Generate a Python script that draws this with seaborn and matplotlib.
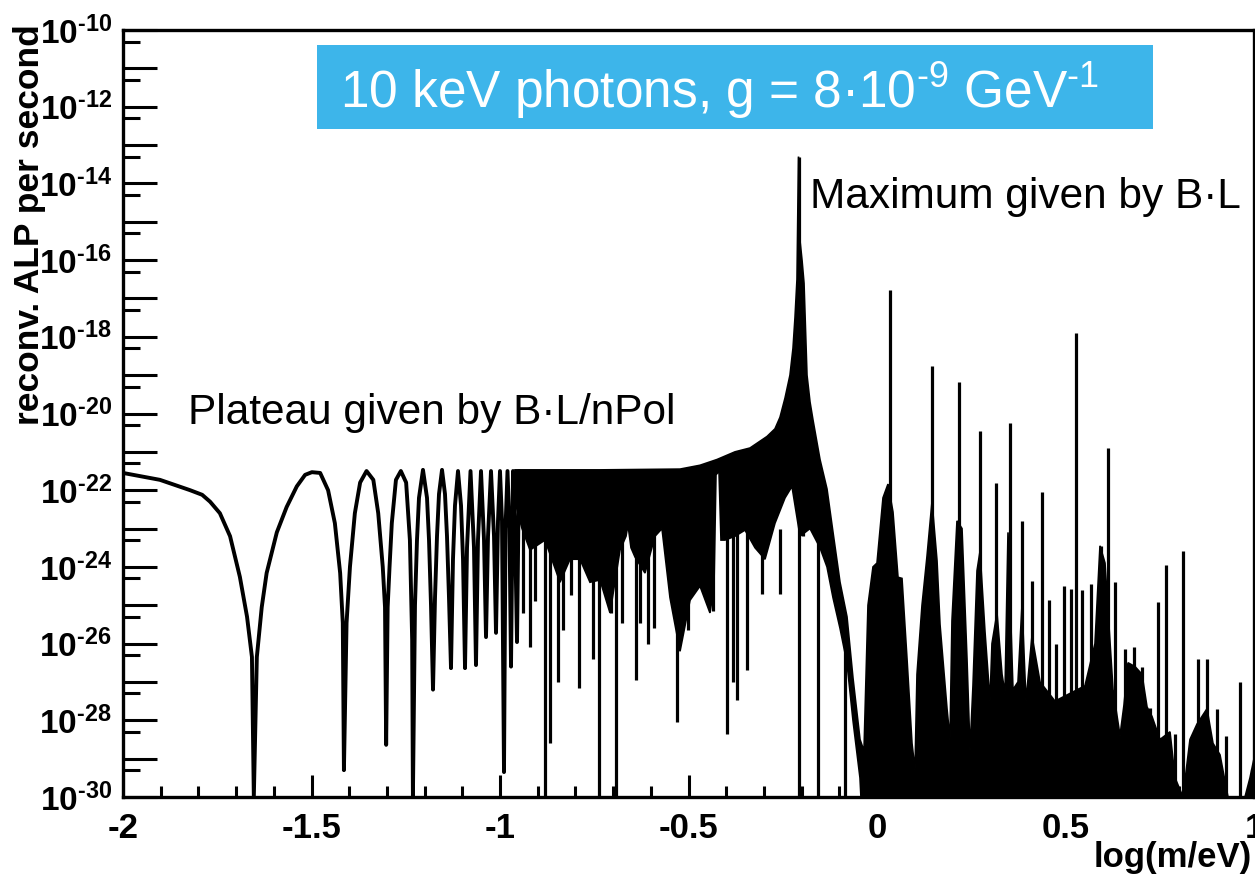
import numpy as np
import matplotlib
matplotlib.use("Agg")
import matplotlib.pyplot as plt
import matplotlib.ticker as mticker
from matplotlib.patches import Rectangle
import pandas as pd
import seaborn as sns

# values are log10(reconv. ALP per second)

# clean oscillation lobes at low mass
lobe_x = [-2.000, -1.902, -1.822, -1.790, -1.769, -1.743, -1.716, -1.690, -1.671, -1.658, -1.653,
          -1.645, -1.632, -1.619, -1.592, -1.566, -1.539, -1.517, -1.499, -1.477, -1.456,
          -1.438, -1.424, -1.417, -1.414, -1.407, -1.398, -1.385, -1.371, -1.354, -1.336,
          -1.323, -1.311, -1.305, -1.302, -1.298, -1.293, -1.287, -1.276, -1.263, -1.249,
          -1.239, -1.233, -1.231,
          -1.2255, -1.2202, -1.2149, -1.2043, -1.1936, -1.1883, -1.1830, -1.1777,
          -1.1724, -1.1671, -1.1618, -1.1538, -1.1459, -1.1406, -1.1353, -1.1300,
          -1.1247, -1.1194, -1.1114, -1.1034, -1.0981, -1.0928,
          -1.0875, -1.0782, -1.0690, -1.0637,
          -1.0584, -1.0504, -1.0424, -1.0371,
          -1.0318, -1.0239, -1.0159, -1.0106,
          -1.0053, -1.0000, -0.9947, -0.9894,
          -0.9854, -0.9801, -0.9748, -0.9708,
          -0.9655, -0.9602, -0.9549, -0.9496]
lobe_exp = [-21.55, -21.73, -22.0, -22.12, -22.3, -22.6, -23.2, -24.26, -25.3, -26.35, -30.0,
            -26.35, -25.05, -24.16, -23.1, -22.44, -21.9, -21.6, -21.53, -21.55, -22.0,
            -22.86, -24.16, -25.46, -29.3, -25.46, -24.0, -22.6, -21.8, -21.5, -21.73,
            -22.6, -24.0, -25.05, -28.64, -25.05, -24.0, -22.86, -21.73, -21.5, -21.8,
            -23.3, -25.9, -30.0,
            -25.0, -23.3, -22.2, -21.47, -22.2, -23.3, -25.0, -27.2,
            -24.8, -23.2, -22.1, -21.47, -22.1, -23.2, -24.8, -26.64,
            -23.8, -22.4, -21.5, -22.4, -23.8, -26.64,
            -23.5, -21.5, -23.5, -26.56,
            -23.3, -21.5, -23.3, -25.83,
            -23.2, -21.5, -23.2, -25.72,
            -22.8, -21.5, -22.8, -29.35,
            -23.0, -21.5, -23.0, -26.6,
            -21.5, -23.0, -25.96, -21.5]

# upper edge of the dense black band (plateau, main peak, side lobes)
band_top_x = [-0.9602, -0.7347, -0.5225, -0.4695, -0.4244, -0.3767, -0.3369, -0.2918,
              -0.2706, -0.2573, -0.2440, -0.2308, -0.2228, -0.2175, -0.2122, -0.2082,
              -0.2042, -0.1989, -0.1936, -0.1857, -0.1777, -0.1698, -0.1512, -0.1326,
              -0.1167, -0.0981, -0.0796, -0.0637, -0.0451,
              -0.0345, -0.0239, -0.0106, 0.0000, 0.0159, 0.0292, 0.0424, 0.0557, 0.0663,
              0.0796, 0.0928, 0.1008, 0.1061, 0.1194, 0.1326, 0.1459, 0.1592, 0.1671,
              0.1857, 0.1936, 0.1989, 0.2122, 0.2255, 0.2387, 0.2467, 0.2546, 0.2653,
              0.2732, 0.2865, 0.2997, 0.3050, 0.3183, 0.3316, 0.3395, 0.3475, 0.3607,
              0.3740, 0.3846, 0.3952, 0.4111, 0.4324, 0.4721, 0.5119, 0.5517, 0.5782,
              0.5915, 0.6048, 0.6260, 0.6446, 0.6552, 0.6658, 0.6844, 0.7029, 0.7162,
              0.7294, 0.7507, 0.7772, 0.7905, 0.8117, 0.8302, 0.8488, 0.8753, 0.8912,
              0.9098, 0.9310, 0.9761, 0.9894, 1.0000]
band_top_exp = [-21.47, -21.47, -21.45, -21.35, -21.2, -21.0, -20.9, -20.6,
                -20.4, -20.1, -19.6, -19.0, -18.3, -17.5, -16.5, -13.3,
                -15.5, -16.0, -16.6, -19.0, -19.7, -20.17, -21.2, -21.97,
                -23.1, -24.4, -25.3, -26.9, -28.5,
                -28.8, -25.0, -24.0, -23.9, -22.2, -21.84, -22.57, -24.27, -24.3,
                -26.4, -28.6, -29.3, -26.8, -25.0, -23.73, -22.3, -23.84, -25.5,
                -27.7, -28.5, -25.4, -22.8, -23.0, -26.4, -28.8, -27.1, -24.1,
                -23.6, -25.7, -27.5, -26.0, -25.2, -26.8, -27.3, -23.1, -27.2,
                -27.0, -25.0, -27.5, -25.8, -27.0, -27.5, -27.3, -27.1, -26.0,
                -23.45, -23.9, -27.2, -28.4, -27.6, -26.5, -26.6, -26.8, -27.65,
                -27.9, -28.5, -28.3, -29.5, -30.0, -28.5, -28.1, -27.7, -28.6,
                -28.9, -30.0, -30.0, -29.5, -29.0]

# lower edge of the dense band
band_bot_x = [-0.9602, -0.9416, -0.9204, -0.8806, -0.8408, -0.8143, -0.7878, -0.7613,
              -0.7347, -0.7082, -0.6817, -0.6658, -0.6605, -0.6525, -0.6419, -0.6154,
              -0.5889, -0.5703, -0.5491, -0.5225, -0.4960, -0.4695, -0.4430, -0.4324,
              -0.4271, -0.4191, -0.4138, -0.4032, -0.3767, -0.3501, -0.3236, -0.2971,
              -0.2706, -0.2440, -0.2255, -0.2042, -0.1777, -0.1512, -0.1326, -0.1167,
              -0.0981, -0.0796, -0.0637, -0.0451, -0.0400, 1.0000]
band_bot_exp = [-22.3, -23.0, -23.56, -23.3, -24.4, -23.8, -23.8, -24.4,
                -24.34, -25.2, -23.56, -23.2, -22.9, -23.5, -23.74, -24.16,
                -23.2, -23.0, -24.8, -26.2, -24.87, -24.5, -25.2, -24.5,
                -21.6, -21.5, -23.3, -23.3, -23.2, -23.04, -23.5, -23.8,
                -22.86, -22.2, -21.9, -23.2, -23.0, -23.5, -24.0, -24.8,
                -25.6, -26.5, -28.0, -29.5, -30.5, -30.5]

# deep minima reaching down out of the band
dip_x = [-0.9390, -0.9204, -0.9072, -0.8806, -0.8674, -0.8462, -0.8329, -0.8117,
         -0.7905, -0.7533, -0.7374, -0.7056, -0.6923, -0.6764, -0.6393, -0.6286,
         -0.6074, -0.5915, -0.5305, -0.5013, -0.4350, -0.3979, -0.3820, -0.3714,
         -0.3448, -0.3050, -0.2573, -0.1963, -0.1565, -0.0849]
dip_low = [-25.2, -26.1, -24.9, -30.0, -28.6, -27.0, -25.65, -24.73,
           -27.16, -26.4, -30.0, -25.2, -30.0, -25.46, -26.95, -25.46,
           -26.0, -25.6, -28.05, -25.65, -25.15, -28.36, -27.0, -27.47,
           -26.7, -24.7, -24.7, -23.2, -30.0, -30.0]
dip_high = [-23.0, -23.0, -23.0, -23.0, -23.0, -23.0, -23.0, -23.0,
            -23.0, -23.0, -23.0, -23.0, -23.0, -23.0, -23.0, -23.0,
            -23.0, -23.0, -23.0, -23.0, -23.0, -23.0, -23.0, -23.0,
            -23.0, -23.0, -23.0, -22.0, -22.0, -25.5]

# narrow resonance peaks
peak_x = [-0.2082, 0.0345, 0.1459, 0.2175, 0.2732, 0.3156, 0.3528, 0.3838, 0.4111,
          0.4377, 0.4562, 0.4748, 0.4960, 0.5146, 0.5279, 0.5438, 0.5676, 0.5942,
          0.6127, 0.6313, 0.6578, 0.6817, 0.7029, 0.7241, 0.7454, 0.7666, 0.7905,
          0.8117, 0.8515, 0.8753, 0.9019, 0.9257, 0.9629, 0.9947]
peak_high = [-13.3, -16.78, -18.76, -19.18, -20.46, -21.8, -20.25, -22.8, -24.37,
             -22.05, -24.87, -26.0, -24.5, -24.57, -17.9, -24.6, -24.45, -23.45,
             -20.9, -24.4, -26.15, -26.08, -26.6, -27.68, -24.92, -23.96, -28.35,
             -23.58, -26.4, -26.4, -27.7, -28.4, -27.0, -29.27]

x_ticks = [-2, -1.5, -1, -0.5, 0, 0.5, 1]
y_decades = list(range(-30, -9))

sns.set_style("ticks")
plt.rcParams['font.family'] = ['Liberation Sans', 'DejaVu Sans']
plt.rcParams['mathtext.fontset'] = 'custom'
plt.rcParams['mathtext.rm'] = 'Liberation Sans'
plt.rcParams['mathtext.bf'] = 'Liberation Sans:bold'
plt.rcParams['mathtext.it'] = 'Liberation Sans:italic'
plt.rcParams['text.color'] = 'black'
plt.rcParams['xtick.color'] = 'black'
plt.rcParams['ytick.color'] = 'black'
plt.rcParams['xtick.labelcolor'] = 'black'
plt.rcParams['ytick.labelcolor'] = 'black'

HY = '\u2010'  # short hyphen as in the original labels

W, H = 1255, 876
fig = plt.figure(figsize=(W / 100, H / 100), dpi=100)
ax = fig.add_axes([123 / W, 1 - 797 / H, 1131 / W, 767 / H])
ax.set_yscale('log')

df = pd.DataFrame({'m': lobe_x, 'rate': 10.0 ** np.array(lobe_exp)})
sns.lineplot(data=df, x='m', y='rate', ax=ax, color='black', lw=2.8,
             sort=False, estimator=None)

poly_x = np.r_[band_top_x, band_bot_x[::-1]]
poly_y = 10.0 ** np.r_[band_top_exp, band_bot_exp[::-1]]
ax.fill(poly_x, poly_y, color='black', lw=1.2)

ax.vlines(dip_x, 10.0 ** np.array(dip_low), 10.0 ** np.array(dip_high),
          color='black', lw=2.3)
ax.vlines(peak_x, 1e-30, 10.0 ** np.array(peak_high), color='black', lw=2.3)

ax.set_xlim(-2, 1)
ax.set_ylim(1e-30, 1e-10)
ax.set_xlabel('')
ax.set_ylabel('')

ax.xaxis.set_major_locator(mticker.FixedLocator(x_ticks))
ax.xaxis.set_minor_locator(mticker.MultipleLocator(0.1))
ax.xaxis.set_major_formatter(mticker.FuncFormatter(lambda v, p: f"{v:g}"))

ax.yaxis.set_major_locator(mticker.FixedLocator([10.0 ** k for k in y_decades]))
ax.yaxis.set_minor_locator(mticker.FixedLocator([5 * 10.0 ** k for k in range(-31, -10)]))
ax.yaxis.set_minor_formatter(mticker.NullFormatter())
ax.yaxis.set_major_formatter(mticker.FixedFormatter(
    [r'$\mathbf{10^{%s%d}}$' % (HY, -k) if k % 2 == 0 else '' for k in y_decades]))

ax.tick_params(axis='y', which='major', direction='in', length=24.5, width=2.2,
               labelsize=24, pad=8, right=False)
ax.tick_params(axis='y', which='minor', direction='in', length=12, width=2.2, right=False)
ax.tick_params(axis='x', which='major', direction='in', length=16, width=2.2,
               labelsize=25, pad=11, top=False)
ax.tick_params(axis='x', which='minor', direction='in', length=8, width=2.2, top=False)
for lab in ax.get_xticklabels():
    lab.set_fontweight('bold')

for s in ax.spines.values():
    s.set_linewidth(2.4)
    s.set_color('black')

ax.add_patch(Rectangle((0.1715, 0.8709), 0.7392, 0.1095, transform=ax.transAxes,
                       facecolor='#3db5ea', edgecolor='none', zorder=5))
ax.text(0.192, 0.898, '10 keV photons, g = 8·10$^{%s9}$ GeV$^{%s1}$' % (HY, HY),
        color='white', fontsize=37, transform=ax.transAxes, va='baseline', zorder=6)
ax.text(0.6074, 0.768, 'Maximum given by B·L', fontsize=30.5, color='black',
        transform=ax.transAxes, va='baseline', zorder=6)
ax.text(0.0575, 0.4863, 'Plateau given by B·L/nPol', fontsize=30.5, color='black',
        transform=ax.transAxes, va='baseline', zorder=6)

fig.text(30 / W, 1 - 225 / H, 'reconv. ALP per second', rotation=90, fontsize=25.5,
         fontweight='bold', ha='center', va='center', color='black')
fig.text(1252 / W, 1 - 857 / H, 'log(m/eV)', fontsize=25, fontweight='bold',
         ha='right', va='center', color='black')

fig.savefig('out.png', dpi=100)
